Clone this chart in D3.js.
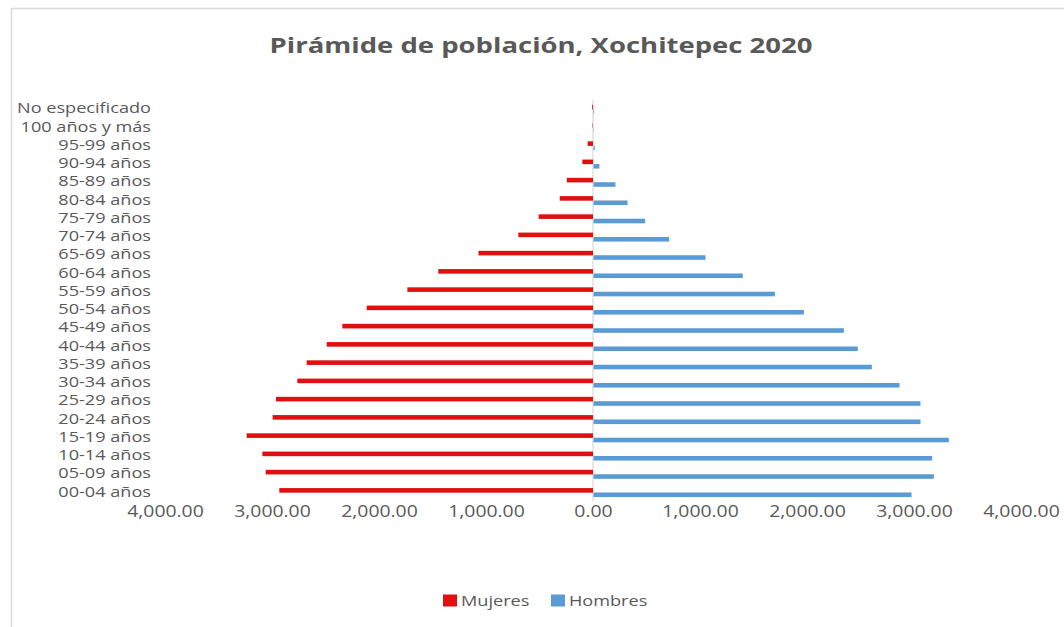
<!DOCTYPE html>
<html><head><meta charset="utf-8">
<script src="https://cdn.jsdelivr.net/npm/d3@7"></script>
<style>html,body{margin:0;padding:0;background:#fff;}svg{display:block;}</style>
</head><body>
<script>
const categories = ["No especificado","100 años y más","95-99 años","90-94 años","85-89 años","80-84 años","75-79 años","70-74 años","65-69 años","60-64 años","55-59 años","50-54 años","45-49 años","40-44 años","35-39 años","30-34 años","25-29 años","20-24 años","15-19 años","10-14 años","05-09 años","00-04 años"];
const mujeres = [8,4,50,100,245,311,508,698,1070,1446,1735,2115,2343,2489,2676,2763,2963,2994,3237,3090,3059,2932];
const hombres = [6,3,12,55,205,318,483,707,1047,1395,1695,1966,2340,2470,2601,2860,3056,3056,3321,3165,3181,2972];
const tickValues = [-4000,-3000,-2000,-1000,0,1000,2000,3000,4000];
const title = "Pirámide de población, Xochitepec 2020";
const seriesNames = ["Mujeres","Hombres"];
const colors = ["#e01010","#5b9bd5"];

const W = 1064, H = 627;
const SX = 1.25; // horizontal stretch of the reference text
const svg = d3.select("body").append("svg").attr("width",W).attr("height",H);
svg.append("rect").attr("x",11.5).attr("y",8.5).attr("width",W+20).attr("height",H+20)
  .attr("fill","#fff").attr("stroke","#d9d9d9").attr("stroke-width",1.5);

const font = "'Open Sans', 'Noto Sans', sans-serif";
svg.append("text").attr("transform",`translate(541,53) scale(${SX},1)`).attr("text-anchor","middle")
  .attr("font-family",font).attr("font-weight","bold").attr("font-size",22)
  .attr("fill","#595959").text(title);

const x = d3.scaleLinear().domain([-4000,4000]).range([165,1021]);
const y = d3.scaleBand().domain(categories).range([99.5,501]).padding(0);
const bh = 4.6;

// zero axis line
svg.append("line").attr("x1",x(0)).attr("x2",x(0)).attr("y1",100).attr("y2",501)
  .attr("stroke","#d0d0d0").attr("stroke-width",1);

const g = svg.append("g");
g.selectAll("rect.m").data(categories).join("rect").attr("class","m")
  .attr("x",(d,i)=>x(-mujeres[i])).attr("width",(d,i)=>x(0)-x(-mujeres[i]))
  .attr("y",d=>y(d)+y.bandwidth()/2-3.8).attr("height",bh).attr("fill",colors[0]);
g.selectAll("rect.h").data(categories).join("rect").attr("class","h")
  .attr("x",x(0)+0.5).attr("width",(d,i)=>x(hombres[i])-x(0))
  .attr("y",d=>y(d)+y.bandwidth()/2+0.6).attr("height",bh).attr("fill",colors[1]);

// category labels
const ya = d3.axisLeft(y).tickSize(0).tickPadding(0);
const yg = svg.append("g").attr("transform","translate(151,0)").call(ya);
yg.select(".domain").remove();
yg.selectAll("text").attr("font-family",font).attr("font-size",14.5).attr("fill","#595959")
  .attr("dy","0.32em").attr("transform",`scale(${SX},1)`);

// x axis
const xa = d3.axisBottom(x).tickValues(tickValues).tickSize(0).tickPadding(0)
  .tickFormat(d=>d3.format(",.2f")(Math.abs(d)));
const xg = svg.append("g").attr("transform","translate(0,506)").call(xa);
xg.select(".domain").remove();
xg.selectAll("text").attr("font-family",font).attr("font-size",15.5).attr("fill","#595959")
  .attr("dy","0.71em").attr("transform",`scale(${SX},1)`);

// legend
const leg = svg.append("g");
const items = [{x:443,name:seriesNames[0],c:colors[0]},{x:551,name:seriesNames[1],c:colors[1]}];
items.forEach(it=>{
  leg.append("rect").attr("x",it.x).attr("y",594.5).attr("width",14).attr("height",12).attr("fill",it.c);
  leg.append("text").attr("transform",`translate(${it.x+18},601) scale(${SX},1)`).attr("dy","0.35em")
    .attr("font-family",font).attr("font-size",14.5).attr("fill","#595959").text(it.name);
});
</script>
</body></html>
